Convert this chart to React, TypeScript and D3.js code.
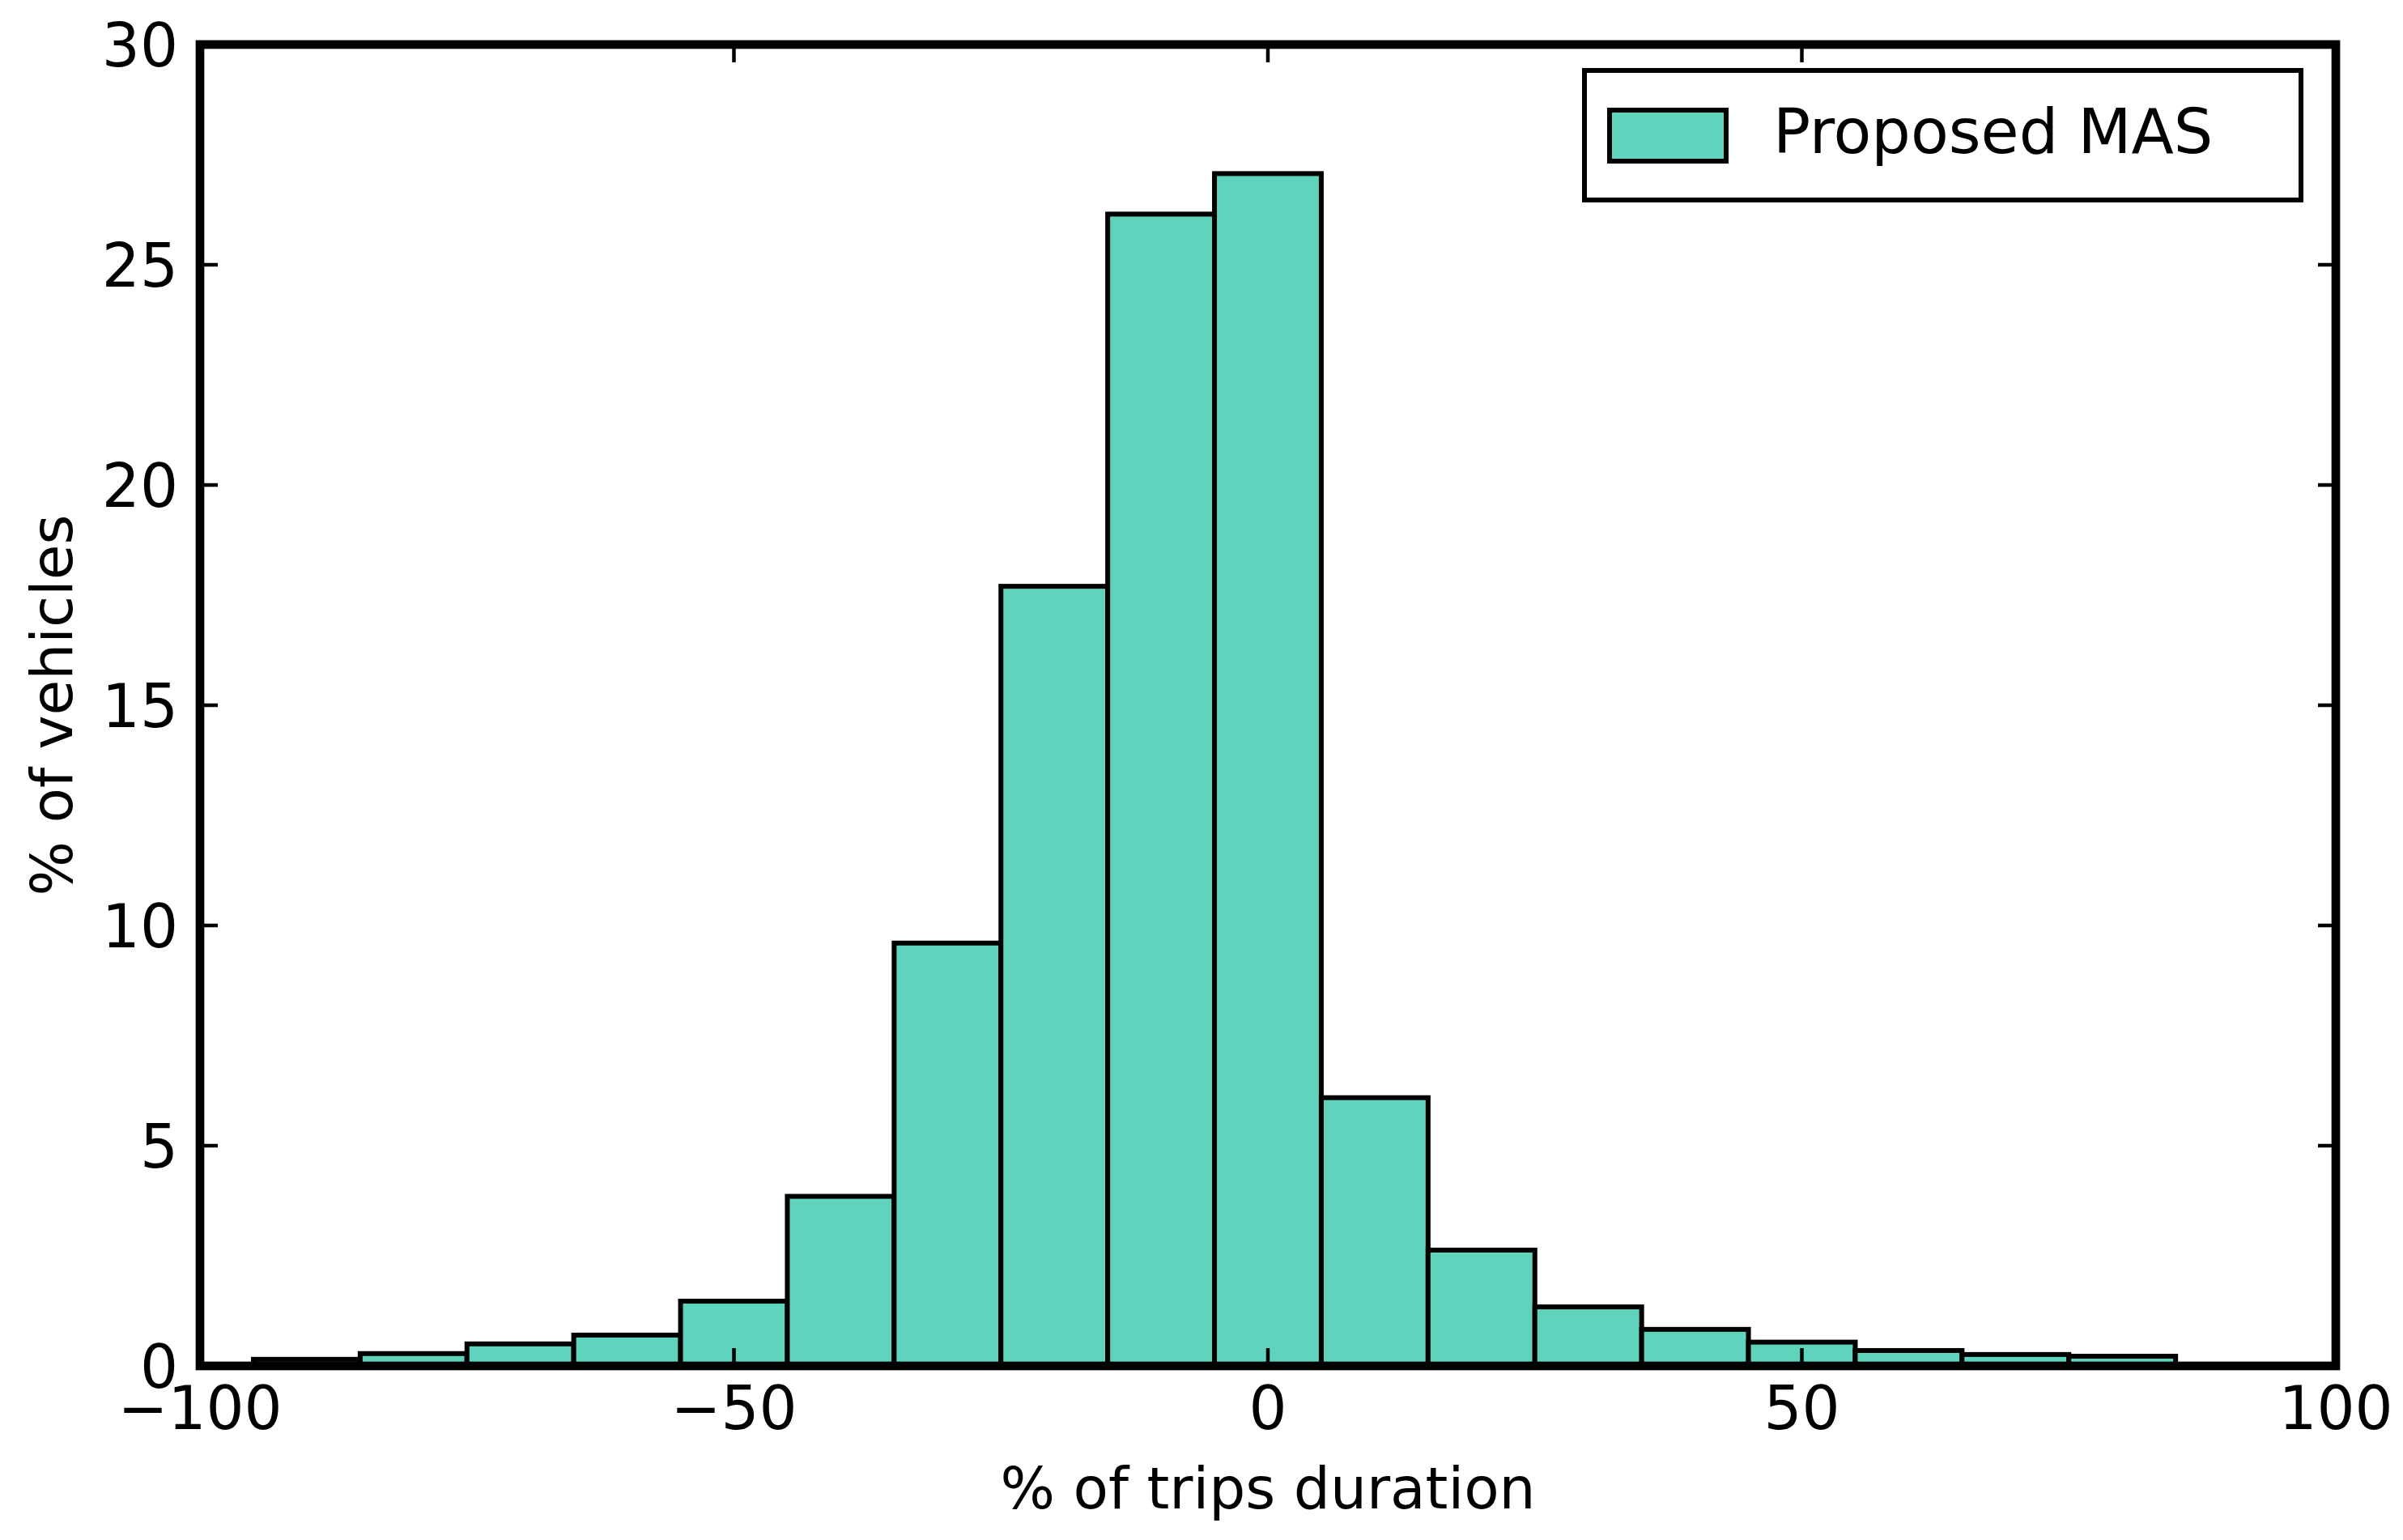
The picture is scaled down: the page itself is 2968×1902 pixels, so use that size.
import React, { useEffect, useRef } from 'react';
import * as d3 from 'd3';

// histogram bins (edges) and heights
const binEdges = [-95, -85, -75, -65, -55, -45, -35, -25, -15, -5, 5, 15, 25, 35, 45, 55, 65, 75, 85];
const binValues = [0.15, 0.28, 0.5, 0.7, 1.47, 3.85, 9.6, 17.7, 26.15, 27.07, 6.09, 2.63, 1.34, 0.83, 0.54, 0.35, 0.26, 0.22];
const xTicks = [-100, -50, 0, 50, 100];
const yTicks = [0, 5, 10, 15, 20, 25, 30];
const seriesName = 'Proposed MAS';
const xLabel = '% of trips duration';
const yLabel = '% of vehicles';

const W = 2968;
const H = 1902;
const FILL = '#5fd3bc';
const FONT = 'DejaVu Sans';

const fmt = (v: number) => (v < 0 ? '\u2212' + Math.abs(v) : String(v));

const App: React.FC = () => {
  const ref = useRef<SVGSVGElement>(null);

  useEffect(() => {
    const svg = d3.select(ref.current);
    svg.selectAll('*').remove();

    const margin = { top: 55, right: 83, bottom: 215, left: 247 };
    const x = d3.scaleLinear().domain([-100, 100]).range([margin.left, W - margin.right]);
    const y = d3.scaleLinear().domain([0, 30]).range([H - margin.bottom, margin.top]);

    svg.append('rect').attr('width', W).attr('height', H).attr('fill', 'white');

    // bars
    const bars = binValues.map((v, i) => ({ x0: binEdges[i], x1: binEdges[i + 1], v }));
    svg.append('g')
      .selectAll('rect')
      .data(bars)
      .enter().append('rect')
      .attr('x', (d) => x(d.x0))
      .attr('y', (d) => y(d.v))
      .attr('width', (d) => x(d.x1) - x(d.x0))
      .attr('height', (d) => y(0) - y(d.v))
      .attr('fill', FILL)
      .attr('stroke', 'black')
      .attr('stroke-width', 6);

    // ticks on all four sides, pointing in
    const tickLen = 22;
    const ticks = svg.append('g').attr('stroke', 'black').attr('stroke-width', 4.5);
    xTicks.forEach((t) => {
      ticks.append('line').attr('x1', x(t)).attr('x2', x(t)).attr('y1', y(0)).attr('y2', y(0) - tickLen);
      ticks.append('line').attr('x1', x(t)).attr('x2', x(t)).attr('y1', y(30)).attr('y2', y(30) + tickLen);
    });
    yTicks.forEach((t) => {
      ticks.append('line').attr('x1', x(-100)).attr('x2', x(-100) + tickLen).attr('y1', y(t)).attr('y2', y(t));
      ticks.append('line').attr('x1', x(100)).attr('x2', x(100) - tickLen).attr('y1', y(t)).attr('y2', y(t));
    });

    // frame
    svg.append('rect')
      .attr('x', x(-100))
      .attr('y', y(30))
      .attr('width', x(100) - x(-100))
      .attr('height', y(0) - y(30))
      .attr('fill', 'none')
      .attr('stroke', 'black')
      .attr('stroke-width', 10.7);

    // tick labels
    const labels = svg.append('g').attr('font-family', FONT).attr('font-size', 74).attr('fill', 'black');
    xTicks.forEach((t) => {
      labels.append('text').attr('x', x(t)).attr('y', 1765).attr('text-anchor', 'middle').text(fmt(t));
    });
    yTicks.forEach((t) => {
      labels.append('text')
        .attr('x', 220)
        .attr('y', y(t))
        .attr('dy', '0.36em')
        .attr('text-anchor', 'end')
        .text(fmt(t));
    });

    // axis titles
    svg.append('text')
      .attr('x', (x(-100) + x(100)) / 2)
      .attr('y', 1863)
      .attr('text-anchor', 'middle')
      .attr('font-family', FONT)
      .attr('font-size', 71)
      .text(xLabel);
    svg.append('text')
      .attr('transform', `translate(89,${(y(0) + y(30)) / 2}) rotate(-90)`)
      .attr('text-anchor', 'middle')
      .attr('font-family', FONT)
      .attr('font-size', 71)
      .text(yLabel);

    // legend
    const lg = svg.append('g');
    lg.append('rect')
      .attr('x', 1957).attr('y', 87).attr('width', 885).attr('height', 160)
      .attr('fill', 'white').attr('stroke', 'black').attr('stroke-width', 6);
    lg.append('rect')
      .attr('x', 1988).attr('y', 136).attr('width', 144).attr('height', 63)
      .attr('fill', FILL).attr('stroke', 'black').attr('stroke-width', 6);
    lg.append('text')
      .attr('x', 2190).attr('y', 189)
      .attr('font-family', FONT).attr('font-size', 76.5)
      .text(seriesName);
  }, []);

  return (
    <svg ref={ref} width={W} height={H} style={{ position: 'absolute', left: 0, top: 0 }} />
  );
};

export default App;
